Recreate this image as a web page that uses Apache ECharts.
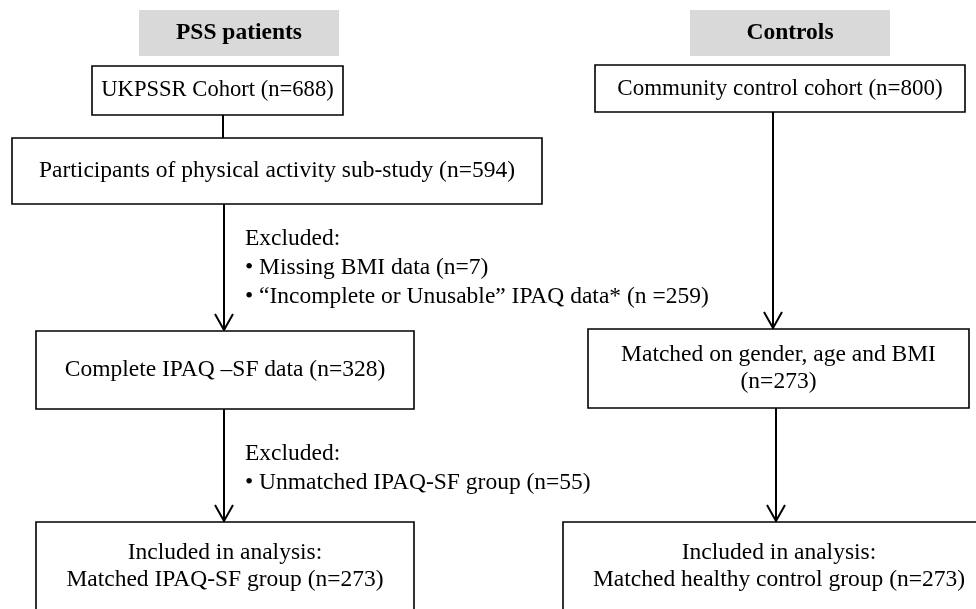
<!DOCTYPE html>
<html><head><meta charset="utf-8">
<script src="https://cdn.jsdelivr.net/npm/echarts@6/dist/echarts.min.js"></script>
<style>html,body{margin:0;padding:0;background:#fff}#c{width:976px;height:609px}</style>
</head><body><div id="c"></div>
<script>
// ---- content ----
const headerLabels = ['PSS patients', 'Controls'];
const boxLabels = [
  'UKPSSR Cohort (n=688)',
  'Participants of physical activity sub-study (n=594)',
  'Complete IPAQ –SF data (n=328)',
  'Included in analysis:\nMatched IPAQ-SF group (n=273)',
  'Community control cohort (n=800)',
  'Matched on gender, age and BMI\n(n=273)',
  'Included in analysis:\nMatched healthy control group (n=273)'
];
const noteLabels = [
  ['Excluded:', '• Missing BMI data (n=7)', '• “Incomplete or Unusable” IPAQ data* (n =259)'],
  ['Excluded:', '• Unmatched IPAQ-SF group (n=55)']
];
// links: [from box, to box, has arrow]
const links = [[0, 1, 0], [1, 2, 1], [2, 3, 1], [4, 5, 1], [5, 6, 1]];

// ---- layout (axis units = page pixels) ----
const headerLayout = [[139, 10, 339, 56], [690, 10, 890, 56]];
const boxLayout = [
  [92, 66, 343, 115],
  [12, 138, 542, 204],
  [36, 331, 414, 409],
  [36, 522, 414, 611],
  [595, 65, 965, 112],
  [588, 329, 969, 408],
  [563, 522, 995, 611]
];
const boxFontSize = [22.6, 23.5, 23.5, 23.5, 23, 23.5, 23.5];
const linkX = [223, 224, 224, 773, 776];
const noteLayout = [[245, 239], [245, 454]];

const FONT = 'Liberation Serif, Times New Roman, serif';
const FS = 23.5;
const LH = 27;

const chart = echarts.init(document.getElementById('c'), null, {renderer: 'canvas'});

const headerData = headerLayout.map((b, i) => [b[0], b[1], b[2], b[3], i]);
const boxData = boxLayout.map((b, i) => [b[0], b[1], b[2], b[3], i]);
const linkData = links.map((l, i) => [linkX[i], boxLayout[l[0]][3], boxLayout[l[1]][1], l[2]]);
const noteData = [];
noteLabels.forEach((lines, g) => lines.forEach((t, k) => noteData.push([noteLayout[g][0], noteLayout[g][1] + k * 29, g, k])));

function rectItem(api, fill, stroke, label, bold, fs) {
  const p1 = api.coord([api.value(0), api.value(1)]);
  const p2 = api.coord([api.value(2), api.value(3)]);
  return {
    type: 'rect',
    shape: {x: p1[0], y: p1[1], width: p2[0] - p1[0], height: p2[1] - p1[1]},
    style: {fill: fill, stroke: stroke, lineWidth: stroke === 'none' ? 0 : 1.6},
    textContent: {
      style: {text: label, fontFamily: FONT, fontSize: fs, fontWeight: bold ? 'bold' : 'normal',
        fill: '#000', align: 'center', verticalAlign: 'middle', lineHeight: LH}
    },
    textConfig: {position: 'inside'}
  };
}

const option = {
  animation: false,
  backgroundColor: '#fff',
  grid: {left: 0, right: 0, top: 0, bottom: 0},
  xAxis: {type: 'value', min: 0, max: 976, show: false},
  yAxis: {type: 'value', min: 0, max: 609, inverse: true, show: false},
  series: [
    {
      type: 'custom', clip: false, data: headerData, z: 2,
      renderItem: (params, api) => rectItem(api, '#d9d9d9', 'none', headerLabels[api.value(4)], true, FS)
    },
    {
      type: 'custom', clip: false, data: linkData, z: 1,
      renderItem: (params, api) => {
        const a = api.coord([api.value(0), api.value(1)]);
        const b = api.coord([api.value(0), api.value(2)]);
        const children = [{type: 'line', shape: {x1: a[0], y1: a[1], x2: b[0], y2: b[1]}, style: {stroke: '#000', lineWidth: 2}}];
        if (api.value(3)) {
          children.push({type: 'polyline', shape: {points: [[b[0] - 9, b[1] - 17], [b[0], b[1] - 1], [b[0] + 9, b[1] - 17]]},
            style: {stroke: '#000', lineWidth: 2, fill: 'none'}});
        }
        return {type: 'group', children: children};
      }
    },
    {
      type: 'custom', clip: false, data: boxData, z: 3,
      renderItem: (params, api) => rectItem(api, '#fff', '#000', boxLabels[api.value(4)], false, boxFontSize[api.value(4)])
    },
    {
      type: 'custom', clip: false, data: noteData, z: 4,
      renderItem: (params, api) => {
        const p = api.coord([api.value(0), api.value(1)]);
        return {type: 'text', x: p[0], y: p[1],
          style: {text: noteLabels[api.value(2)][api.value(3)], fontFamily: FONT, fontSize: FS, fill: '#000',
            align: 'left', verticalAlign: 'middle'}};
      }
    }
  ]
};
chart.setOption(option);
</script>
</body></html>
